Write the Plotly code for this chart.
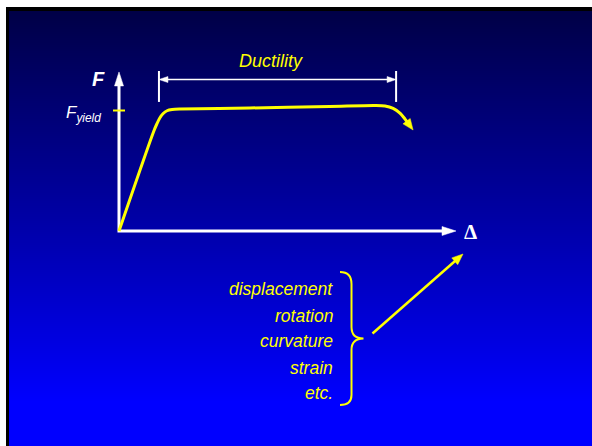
import numpy as np
import plotly.graph_objects as go

# ---------------- data (normalised units: F / F_yield, Δ in yield-displacement units) ----
delta = [0.0, 0.82, 0.89, 0.96, 1.04, 1.13, 1.25, 1.44, 3.08, 4.96, 6.02, 6.26, 6.45, 6.61, 6.73, 6.92]
force = [0.0, 0.830, 0.888, 0.938, 0.975, 0.998, 1.008, 1.012, 1.021, 1.033, 1.041, 1.037, 1.017, 0.979, 0.929, 0.838]
f_yield = 1.0
ductility_range = [0.94, 6.52]
ductility_level = 1.257
ductility_tick = [1.071, 1.328]
delta_axis_end = 7.93
force_axis_end = 1.32
quantity_labels = ["displacement", "rotation", "curvature", "strain", "etc."]

# ---------------- layout geometry ----------------
W, H = 592, 446
OX, OY = 119.0, 231.0      # pixel position of the origin
SX, SY = 42.5, 120.5       # pixels per unit of Δ and F


def px2x(p):
    return (p - OX) / SX


def py2y(p):
    return (OY - p) / SY


def x2px(v):
    return OX + v * SX


def y2py(v):
    return OY - v * SY


YELLOW = "#ffff00"
WHITE = "#ffffff"
SANS = "Liberation Sans, Arial, sans-serif"
SERIF = "Liberation Serif, Times New Roman, serif"


def head_path(tip, frm, length, width):
    tx, ty = x2px(tip[0]), y2py(tip[1])
    fx, fy = x2px(frm[0]), y2py(frm[1])
    d = np.hypot(tx - fx, ty - fy)
    ux, uy = (tx - fx) / d, (ty - fy) / d
    bx, by = tx - ux * length, ty - uy * length
    nx, ny = -uy, ux
    pts = [(tx, ty), (bx + nx * width / 2, by + ny * width / 2), (bx - nx * width / 2, by - ny * width / 2)]
    return "M " + " L ".join(f"{px2x(a):.4f},{py2y(b):.4f}" for a, b in pts) + " Z"


def back_off(tip, frm, dist):
    tx, ty = x2px(tip[0]), y2py(tip[1])
    fx, fy = x2px(frm[0]), y2py(frm[1])
    d = np.hypot(tx - fx, ty - fy)
    return px2x(tx - (tx - fx) / d * dist), py2y(ty - (ty - fy) / d * dist)


fig = go.Figure()
shapes = []

# frame + gradient background
shapes.append(dict(type="rect", xref="x", yref="y", x0=px2x(6), x1=px2x(W + 2), y0=py2y(7), y1=py2y(H + 2),
                   fillcolor="#000000", line=dict(width=0), layer="below"))
rows = np.arange(11, H + 1)
y_edges = [py2y(p) for p in rows[::-1]]
z = [[float(p)] for p in (rows[::-1][:-1] - 0.5)]
fig.add_trace(go.Heatmap(
    x=[px2x(9), px2x(W + 1)], y=y_edges, z=z, zmin=11, zmax=H,
    colorscale=[[0, "#000046"], [0.55, "#0000b4"], [0.9, "#0000ff"], [1, "#0000ff"]],
    showscale=False, hoverinfo="skip"))

# axes
ax_len = 13
xa_end = back_off((delta_axis_end, 0), (0, 0), ax_len * 0.6)
ya_end = back_off((0, force_axis_end), (0, 0), ax_len * 0.6)
fig.add_trace(go.Scatter(x=[xa_end[0], 0, 0], y=[0, 0, ya_end[1]], mode="lines",
                         line=dict(color=WHITE, width=3), hoverinfo="skip"))
shapes.append(dict(type="path", xref="x", yref="y", path=head_path((delta_axis_end, 0), (0, 0), 14, 9),
                   fillcolor=WHITE, line=dict(color=WHITE, width=0.5)))
shapes.append(dict(type="path", xref="x", yref="y", path=head_path((0, force_axis_end), (0, 0), 14, 9),
                   fillcolor=WHITE, line=dict(color=WHITE, width=0.5)))

# F_yield tick
fig.add_trace(go.Scatter(x=[px2x(113), px2x(125)], y=[f_yield, f_yield], mode="lines",
                         line=dict(color=YELLOW, width=2), hoverinfo="skip"))

# force-displacement curve
tip = (delta[-1], force[-1])
prev = (delta[-2], force[-2])
end_pt = back_off(tip, prev, 6)
fig.add_trace(go.Scatter(x=delta[:-1] + [end_pt[0]], y=force[:-1] + [end_pt[1]], mode="lines",
                         line=dict(color=YELLOW, width=3, shape="spline", smoothing=0.8), hoverinfo="skip"))
shapes.append(dict(type="path", xref="x", yref="y", path=head_path(tip, prev, 11, 9),
                   fillcolor=YELLOW, line=dict(color=YELLOW, width=0.5)))

# ductility dimension
d0, d1 = ductility_range
for dv in ductility_range:
    fig.add_trace(go.Scatter(x=[dv, dv], y=ductility_tick, mode="lines",
                             line=dict(color=WHITE, width=2), hoverinfo="skip"))
l0 = back_off((d0, ductility_level), (d1, ductility_level), 5)
l1 = back_off((d1, ductility_level), (d0, ductility_level), 5)
fig.add_trace(go.Scatter(x=[l0[0], l1[0]], y=[ductility_level, ductility_level], mode="lines",
                         line=dict(color=WHITE, width=1.6), hoverinfo="skip"))
shapes.append(dict(type="path", xref="x", yref="y", path=head_path((d0, ductility_level), (d1, ductility_level), 9, 6),
                   fillcolor=WHITE, line=dict(color=WHITE, width=0.5)))
shapes.append(dict(type="path", xref="x", yref="y", path=head_path((d1, ductility_level), (d0, ductility_level), 9, 6),
                   fillcolor=WHITE, line=dict(color=WHITE, width=0.5)))

# brace
def P(a, b):
    return f"{px2x(a):.4f},{py2y(b):.4f}"

bx_, tipx = 351.5, 363.5
brace = (f"M {P(340, 272)} C {P(348, 272)} {P(bx_, 276)} {P(bx_, 284)} L {P(bx_, 327)} "
         f"C {P(bx_, 334)} {P(355, 338.5)} {P(tipx, 338.5)} "
         f"C {P(355, 338.5)} {P(bx_, 343)} {P(bx_, 350)} L {P(bx_, 395)} "
         f"C {P(bx_, 402)} {P(348, 405)} {P(340, 405)}")
shapes.append(dict(type="path", xref="x", yref="y", path=brace, line=dict(color=YELLOW, width=2)))

# pointer arrow from brace to Δ
a_from = (px2x(372.5), py2y(333.5))
a_tip = (px2x(463), py2y(254))
a_end = back_off(a_tip, a_from, 6)
fig.add_trace(go.Scatter(x=[a_from[0], a_end[0]], y=[a_from[1], a_end[1]], mode="lines",
                         line=dict(color=YELLOW, width=2.5), hoverinfo="skip"))
shapes.append(dict(type="path", xref="x", yref="y", path=head_path(a_tip, a_from, 11, 9),
                   fillcolor=YELLOW, line=dict(color=YELLOW, width=0.5)))

# text
ann = []
ann.append(dict(x=px2x(271), y=py2y(61), text="Ductility", showarrow=False,
                font=dict(family=SANS, size=18, color=YELLOW, style="italic"), xanchor="center", yanchor="middle"))
ann.append(dict(x=px2x(98.5), y=py2y(78.5), text="F", showarrow=False,
                font=dict(family=SANS, size=20, color=WHITE, style="italic", weight="bold"),
                xanchor="center", yanchor="middle"))
ann.append(dict(x=px2x(103), y=py2y(114), text="F<sub>yield</sub>", showarrow=False,
                font=dict(family=SANS, size=17, color=WHITE, style="italic"), xanchor="right", yanchor="middle"))
ann.append(dict(x=px2x(470), y=py2y(232), text="Δ", showarrow=False,
                font=dict(family=SERIF, size=21, color=WHITE, weight="bold"), xanchor="center", yanchor="middle"))
label_y = [289, 315.5, 341, 367.5, 393]
for lab, yy in zip(quantity_labels, label_y):
    ann.append(dict(x=px2x(335), y=py2y(yy), text=lab, showarrow=False,
                    font=dict(family=SANS, size=17.5, color=YELLOW, style="italic"),
                    xanchor="right", yanchor="middle"))

fig.update_layout(
    width=W, height=H, autosize=False,
    margin=dict(l=0, r=0, t=0, b=0, pad=0),
    paper_bgcolor="#ffffff", plot_bgcolor="#ffffff",
    showlegend=False, hovermode=False,
    xaxis=dict(range=[px2x(0), px2x(W)], visible=False, fixedrange=True, domain=[0, 1]),
    yaxis=dict(range=[py2y(H), py2y(0)], visible=False, fixedrange=True, domain=[0, 1]),
    shapes=shapes, annotations=ann,
)

fig.write_html("out.html", config={"displayModeBar": False},
               post_script="document.body.style.margin='0';document.body.style.padding='0';"
                           "document.body.style.overflow='hidden';")
